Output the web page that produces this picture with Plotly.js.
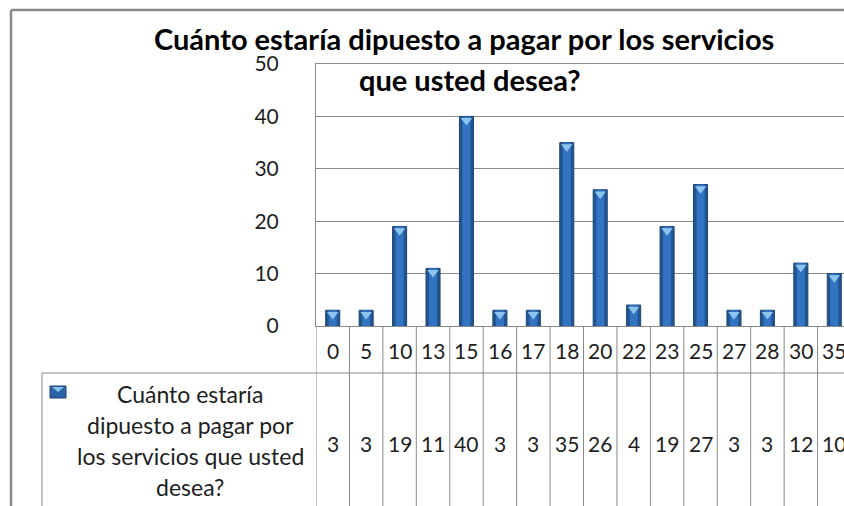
<!DOCTYPE html>
<html>
<head>
<meta charset="utf-8">
<script src="https://cdn.plot.ly/plotly-3.0.1.min.js"></script>
<style>
html,body{margin:0;padding:0;background:#fff;overflow:hidden;width:844px;height:506px;}
#chart{width:870px;height:506px;}
</style>
</head>
<body>
<div id="chart"></div>
<script>
// ---- data ----
const categories = ['0','5','10','13','15','16','17','18','20','22','23','25','27','28','30','35'];
const values = [3,3,19,11,40,3,3,35,26,4,19,27,3,3,12,10];
const seriesName = 'Cuánto estaría dipuesto a pagar por los servicios que usted desea?';
const titleLines = ['Cuánto estaría dipuesto a pagar por los servicios', 'que usted desea?'];
const legendLines = ['Cuánto estaría', 'dipuesto a pagar por', 'los servicios que usted', 'desea?'];
const yTicks = [0, 10, 20, 30, 40, 50];

// ---- layout helpers (pixel -> paper) ----
const W = 870, H = 506, L = 316, R = 851, T = 64, B = 326;
const px = x => (x - L) / (R - L);
const py = y => (B - y) / (B - T);
const FONT = 'Lato, "Open Sans", "DejaVu Sans", sans-serif';
const TXT = '#1e1e1e';
const LINE = '#8a8a8a';

const traces = [
  {type: 'bar', x: categories, y: values, name: seriesName, width: 0.42,
   marker: {color: '#22558f', line: {color: '#1c4677', width: 1}}, hoverinfo: 'x+y', showlegend: false},
  {type: 'bar', x: categories, y: values, name: seriesName, width: 0.24,
   marker: {color: '#3274c2', line: {width: 0}}, hoverinfo: 'skip', showlegend: false},
  {type: 'scatter', mode: 'markers', x: categories, y: values.map(v => v - 0.8),
   marker: {symbol: 'triangle-down', size: 10, color: '#8cc3ef', line: {width: 0}},
   hoverinfo: 'skip', showlegend: false, cliponaxis: false}
];

const shapes = [];
const annotations = [];

// outer chart frame
shapes.push({type: 'line', xref: 'paper', yref: 'paper', x0: px(11), x1: px(11), y0: py(10), y1: py(520), line: {color: LINE, width: 2.5}});
shapes.push({type: 'line', xref: 'paper', yref: 'paper', x0: px(11), x1: px(900), y0: py(10), y1: py(10), line: {color: LINE, width: 2.5}});

// data table grid: column separators
for (let k = 0; k <= categories.length; k++) {
  shapes.push({type: 'line', xref: 'x', yref: 'paper', x0: k - 0.5, x1: k - 0.5, y0: py(326), y1: py(520), line: {color: LINE, width: 1}});
}
// row separator and legend cell
shapes.push({type: 'line', xref: 'paper', yref: 'paper', x0: px(42), x1: px(900), y0: py(373), y1: py(373), line: {color: LINE, width: 1}});
shapes.push({type: 'line', xref: 'paper', yref: 'paper', x0: px(42), x1: px(42), y0: py(373), y1: py(520), line: {color: LINE, width: 1}});
// legend key
shapes.push({type: 'rect', xref: 'paper', yref: 'paper', x0: px(50), x1: px(66), y0: py(398), y1: py(386), fillcolor: '#2a62a6', line: {color: '#1c4677', width: 1}});
shapes.push({type: 'path', xref: 'paper', yref: 'paper',
  path: `M ${px(52)} ${py(387)} L ${px(64)} ${py(387)} L ${px(58)} ${py(392)} Z`, fillcolor: '#8cc3ef', line: {width: 0}});

// title
annotations.push({xref: 'paper', yref: 'paper', x: px(464), y: py(39), xanchor: 'center', yanchor: 'middle', showarrow: false,
  text: '<b>' + titleLines[0] + '</b>', font: {family: FONT, size: 29, color: '#000'}});
annotations.push({xref: 'paper', yref: 'paper', x: px(470), y: py(79), xanchor: 'center', yanchor: 'middle', showarrow: false,
  text: '<b>' + titleLines[1] + '</b>', font: {family: FONT, size: 29, color: '#000'}});

// table header row (categories) and values row; x given as category index
categories.forEach((c, i) => {
  annotations.push({xref: 'x', yref: 'paper', x: i, y: py(350), xanchor: 'center', yanchor: 'middle', showarrow: false,
    text: c, font: {family: FONT, size: 21, color: TXT}});
  annotations.push({xref: 'x', yref: 'paper', x: i, y: py(443), xanchor: 'center', yanchor: 'middle', showarrow: false,
    text: String(values[i]), font: {family: FONT, size: 21, color: TXT}});
});

// legend cell text
legendLines.forEach((t, j) => {
  annotations.push({xref: 'paper', yref: 'paper', x: px(190), y: py(394 + j * 31), xanchor: 'center', yanchor: 'middle', showarrow: false,
    text: t, font: {family: FONT, size: 23, color: TXT}});
});

const layout = {
  width: W, height: H,
  margin: {l: L, r: W - R, t: T, b: H - B},
  paper_bgcolor: '#fff', plot_bgcolor: '#fff',
  barmode: 'overlay',
  showlegend: false,
  xaxis: {type: 'category', categoryorder: 'array', categoryarray: categories, range: [-0.5, categories.length - 0.5],
    showticklabels: false, ticks: '', showgrid: false, zeroline: false,
    showline: true, mirror: true, linecolor: LINE, linewidth: 1, fixedrange: true},
  yaxis: {range: [0, 50], tickvals: yTicks, ticktext: yTicks.map(String), ticks: '', ticklabelstandoff: 32,
    showgrid: true, gridcolor: LINE, gridwidth: 1, zeroline: false,
    showline: true, mirror: true, linecolor: LINE, linewidth: 1,
    tickfont: {family: FONT, size: 21, color: TXT}, fixedrange: true},
  shapes: shapes,
  annotations: annotations
};

Plotly.newPlot('chart', traces, layout, {displayModeBar: false, staticPlot: true});
</script>
</body>
</html>
